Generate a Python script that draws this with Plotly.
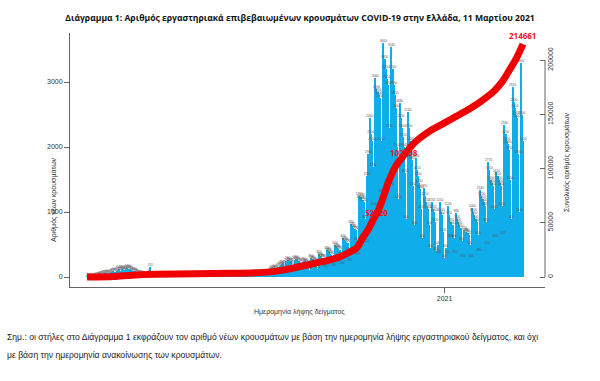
import plotly.graph_objects as go
import pandas as pd

START_DATE = "2020-02-26"

cases_2020_02 = [1, 2, 1, 3]
cases_2020_03 = [2, 4, 6, 10, 12, 18, 22, 30, 40, 35, 45, 50, 55, 60, 45, 50, 65, 70, 80, 90,
                 75, 70, 95, 110, 120, 100, 130, 115, 90, 110, 125]
cases_2020_04 = [140, 120, 130, 110, 80, 90, 100, 85, 70, 65, 55, 45, 40, 50, 35, 30, 25, 30, 25, 60,
                 155, 40, 25, 20, 15, 12, 15, 18, 14, 12]
cases_2020_05 = [10, 8, 6, 5, 9, 12, 10, 7, 6, 4, 8, 9, 12, 10, 7, 5, 4, 8, 10, 12,
                 9, 6, 4, 5, 9, 11, 10, 8, 6, 5, 7]
cases_2020_06 = [10, 9, 8, 12, 15, 18, 10, 11, 14, 20, 15, 12, 9, 22, 30, 40, 35, 28, 20, 15,
                 12, 25, 18, 22, 30, 26, 18, 12, 20, 24]
cases_2020_07 = [18, 20, 22, 15, 10, 25, 30, 28, 26, 24, 20, 15, 35, 40, 38, 30, 28, 22, 18, 40,
                 45, 42, 38, 35, 25, 20, 50, 55, 60, 55, 48]
cases_2020_08 = [40, 30, 90, 110, 120, 130, 140, 110, 70, 150, 170, 190, 200, 210, 160, 110, 240, 260, 250, 230,
                 240, 180, 120, 260, 280, 270, 250, 240, 190, 130, 230]
cases_2020_09 = [250, 240, 220, 210, 170, 110, 300, 280, 270, 250, 240, 190, 120, 350, 330, 310, 300, 290, 220, 140,
                 420, 400, 380, 360, 340, 260, 160, 500, 470, 450]
cases_2020_10 = [430, 420, 320, 190, 600, 570, 550, 540, 520, 400, 230, 820, 780, 760, 740, 720, 560, 320, 1250, 1200,
                 1230, 1180, 1150, 900, 520, 1550, 1900, 2450, 2200, 2100, 1700]
cases_2020_11 = [1100, 3060, 2900, 2850, 2800, 2750, 2100, 1300, 3600, 3350, 3200, 3050, 2950, 2300, 1400, 3540, 3200, 2950, 2800, 2600,
                 2000, 1200, 2680, 2450, 2300, 2150, 2000, 1600, 900, 2540]
cases_2020_12 = [2300, 2100, 1950, 1800, 1400, 800, 1830, 1650, 1550, 1450, 1350, 1050, 600, 1370, 1250, 1150, 1100, 1050, 800, 450,
                 1150, 1050, 1000, 850, 400, 500, 350, 1150, 1000, 950, 700]
cases_2021_01 = [300, 450, 350, 1100, 950, 600, 850, 800, 600, 350, 980, 900, 850, 800, 750, 550, 300, 720, 690, 700,
                 680, 650, 500, 300, 1060, 1000, 950, 900, 850, 650, 380]
cases_2021_02 = [1340, 1250, 1200, 1150, 1100, 850, 500, 1770, 1650, 1500, 1450, 1400, 1050, 600, 1610, 1550, 1500, 1450, 1400, 1100,
                 650, 2340, 2200, 2100, 2050, 1950, 1500, 900]
cases_2021_03 = [2920, 2700, 2600, 2500, 2450, 1900, 1000, 3300, 2500, 2100]

daily_cases = (cases_2020_02 + cases_2020_03 + cases_2020_04 + cases_2020_05 + cases_2020_06 +
               cases_2020_07 + cases_2020_08 + cases_2020_09 + cases_2020_10 + cases_2020_11 +
               cases_2020_12 + cases_2021_01 + cases_2021_02 + cases_2021_03)
dates = pd.date_range(START_DATE, periods=len(daily_cases), freq="D")

# cumulative total (right axis)
cum_dates = ["2020-02-26", "2020-03-20", "2020-04-05", "2020-04-25", "2020-05-31", "2020-06-30",
             "2020-07-31", "2020-08-15", "2020-09-01", "2020-09-12", "2020-09-23", "2020-10-02",
             "2020-10-11", "2020-10-17", "2020-10-22", "2020-10-27", "2020-10-31", "2020-11-05",
             "2020-11-09", "2020-11-13", "2020-11-20", "2020-11-27", "2020-12-03", "2020-12-10",
             "2020-12-20", "2021-01-01", "2021-01-11", "2021-01-21", "2021-02-01", "2021-02-13",
             "2021-02-20", "2021-02-27", "2021-03-04", "2021-03-10"]
cum_values = [0, 450, 1700, 2500, 2950, 3400,
              4500, 6600, 10300, 13000, 15600, 18500,
              23000, 27000, 36000, 44000, 52520, 62500,
              74000, 86500, 102708, 112500, 120500, 127500,
              135000, 142000, 148000, 154000, 161500, 171500,
              180000, 192000, 201000, 214661]

labelled_dates = ["2020-10-31", "2020-11-20", "2021-03-10"]
labelled_values = [52520, 102708, 214661]
label_shift = [(3, 8), (8, 13), (0, 9)]

title_text = "Διάγραμμα 1: Αριθμός εργαστηριακά επιβεβαιωμένων κρουσμάτων COVID-19 στην Ελλάδα, 11 Μαρτίου 2021"
left_title = "Αριθμός νέων κρουσμάτων"
right_title = "Συνολικός αριθμός κρουσμάτων"
x_title = "Ημερομηνία λήψης δείγματος"
note_1 = "Σημ.: οι στήλες στο Διάγραμμα 1 εκφράζουν τον αριθμό νέων κρουσμάτων με βάση την ημερομηνία λήψης εργαστηριακού δείγματος, και όχι"
note_2 = "με βάση την ημερομηνία ανακοίνωσης των κρουσμάτων."

left_ticks = [0, 1000, 2000, 3000]
right_ticks = [0, 50000, 100000, 150000, 200000]

W, H = 600, 381
L, R, T, B = 70, 55, 33, 94
pw, ph = W - L - R, H - T - B


def px(x):
    return (x - L) / pw


def py(y):
    return (H - B - y) / ph


fig = go.Figure()
fig.add_trace(go.Bar(x=dates, y=daily_cases, width=86400000,
                     marker=dict(color="#0FAEEA", line=dict(width=0)),
                     hoverinfo="skip", showlegend=False))
fig.add_trace(go.Scatter(x=dates, y=daily_cases, mode="text",
                         text=[str(v) for v in daily_cases], textposition="top center",
                         textfont=dict(size=3.2, color="#555555", family="Liberation Sans"),
                         hoverinfo="skip", showlegend=False))
fig.add_trace(go.Scatter(x=cum_dates, y=cum_values, yaxis="y2", mode="lines",
                         line=dict(color="#F00000", width=7, shape="spline", smoothing=0.8),
                         hoverinfo="skip", showlegend=False))

annotations = []
for d, v, (dx, dy) in zip(labelled_dates, labelled_values, label_shift):
    annotations.append(dict(x=d, y=v, xref="x", yref="y2", text="<b>%d</b>" % v, showarrow=False,
                            xshift=dx, yshift=dy, font=dict(size=8, color="#E8141B", family="Open Sans")))

annotations += [
    dict(x=px(48), y=py(200), xref="paper", yref="paper", text=left_title, textangle=-90,
         showarrow=False, font=dict(size=7, color="#333333", family="Liberation Sans")),
    dict(x=px(573), y=py(162), xref="paper", yref="paper", text=right_title, textangle=-90,
         showarrow=False, font=dict(size=7, color="#333333", family="Liberation Sans")),
    dict(x=px(299), y=py(318), xref="paper", yref="paper", text=x_title,
         showarrow=False, font=dict(size=7, color="#333333", family="Liberation Sans")),
    dict(x=px(5), y=py(344), xref="paper", yref="paper", text=note_1, xanchor="left",
         showarrow=False, font=dict(size=8.6, color="#222222", family="Liberation Sans")),
    dict(x=px(5), y=py(362), xref="paper", yref="paper", text=note_2, xanchor="left",
         showarrow=False, font=dict(size=8.6, color="#222222", family="Liberation Sans")),
]

fig.update_layout(
    width=W, height=H, margin=dict(l=L, r=R, t=T, b=B),
    paper_bgcolor="white", plot_bgcolor="white",
    bargap=0, showlegend=False,
    title=dict(text="<b>" + title_text + "</b>", x=0.5, xref="container", xanchor="center",
               y=1 - 18 / H, yref="container", yanchor="middle",
               font=dict(size=8.6, color="#111111", family="Open Sans")),
    xaxis=dict(type="date", range=["2020-02-11 06:00", "2021-03-29 02:00"],
               tickvals=["2021-01-01"], ticktext=["2021"], ticks="outside", ticklen=5,
               tickcolor="#666666", showline=True, linecolor="#666666", linewidth=1,
               showgrid=False, zeroline=False,
               tickfont=dict(size=7, color="#333333", family="Liberation Sans")),
    yaxis=dict(range=[-153.8, 3753.8], tickvals=left_ticks, ticks="outside", ticklen=5,
               tickcolor="#666666", showline=True, linecolor="#666666", linewidth=1,
               showgrid=False, zeroline=False,
               tickfont=dict(size=7, color="#333333", family="Liberation Sans")),
    yaxis2=dict(overlaying="y", side="right", range=[-9217, 224885], tickvals=right_ticks,
                ticktext=[str(t) for t in right_ticks],
                ticks="inside", ticklen=5, tickcolor="#666666", showline=False,
                showgrid=False, zeroline=False, tickangle=-90,
                tickfont=dict(size=7, color="#333333", family="Liberation Sans")),
    annotations=annotations,
    shapes=[dict(type="line", xref="paper", yref="y2", x0=1, x1=1, y0=0, y1=200000,
                 line=dict(color="#666666", width=1))],
)

fig.write_html("out.html", config={"displayModeBar": False},
               post_script="document.body.style.margin='0px';")
